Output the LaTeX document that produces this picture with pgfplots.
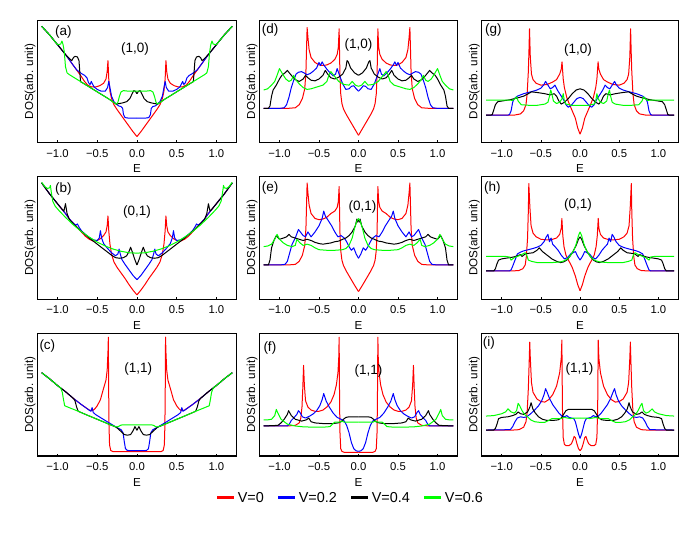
\documentclass[border=0pt]{standalone}
\usepackage{fontspec}
\setmainfont{Liberation Sans}
\usepackage{pgfplots}
\usepackage{pgfplotstable}
\pgfplotsset{compat=1.18}

\definecolor{vR}{RGB}{255,0,0}
\definecolor{vB}{RGB}{0,0,255}
\definecolor{vK}{RGB}{0,0,0}
\definecolor{vG}{RGB}{0,255,0}

% Each table holds the E >= 0 half of a symmetric DOS curve (E, DOS)
% ---------------- (a) (1,0) ----------------
\pgfplotstableread{
0 5
0.05 9
0.10 13.5
0.15 18
0.20 22.5
0.25 27
0.29 31
0.32 36
0.34 42
0.355 52
0.365 67
0.375 58
0.39 52
0.42 48.5
0.47 46.5
0.52 45.5
0.57 45.5
0.62 47
0.66 50
0.70 54
0.75 58.5
0.80 63
0.85 67.5
0.90 72
0.95 76
1.00 80
1.05 84
1.10 88
1.15 91.5
1.20 95
}\aR
\pgfplotstableread{
0 20
0.10 20
0.15 20.5
0.17 23
0.18 28
0.20 29.5
0.23 30
0.26 31.5
0.29 33.5
0.32 38
0.34 45
0.355 50
0.37 45
0.40 42
0.45 42
0.50 43.5
0.54 45.5
0.56 48
0.575 50
0.59 47.5
0.61 49
0.63 53
0.66 55
0.70 56.5
0.73 58
0.76 59.5
0.80 63
0.85 67.5
0.90 72
0.95 76
1.00 80
1.05 84
1.10 88
1.15 91.5
1.20 95
}\aB
\pgfplotstableread{
0 40
0.02 42
0.04 42.5
0.06 40
0.09 36
0.13 33.5
0.18 32.5
0.22 32
0.26 31.5
0.35 35.5
0.45 39.5
0.55 43.5
0.65 47.5
0.71 49.8
0.72 58
0.73 67
0.75 70
0.78 70.5
0.80 69.5
0.82 67
0.84 68
0.87 70
0.90 72
0.95 76
1.00 80
1.05 84
1.10 88
1.15 91.5
1.20 95
}\aK
\pgfplotstableread{
0 42
0.10 42
0.17 42.5
0.20 41.5
0.22 38
0.24 33
0.26 31.5
0.35 35.5
0.45 39.5
0.55 43.5
0.65 47.5
0.75 51.5
0.85 55.5
0.88 57
0.90 62
0.915 74
0.93 80
0.945 83
0.96 80.5
1.00 80
1.05 84
1.10 88
1.15 91.5
1.20 95
}\aG
% ---------------- (b) (0,1) ----------------
\pgfplotstableread{
0 3.6
0.05 7.5
0.10 12
0.15 17
0.20 21.5
0.25 26
0.29 30.5
0.32 37
0.34 45
0.355 56
0.365 68
0.375 60
0.39 55
0.42 52
0.46 49.5
0.50 48
0.55 47.5
0.60 49
0.65 51.5
0.70 55
0.75 58.5
0.80 62
0.85 65.5
0.90 70
0.95 74
1.00 78
1.05 82
1.10 86
1.15 90.5
1.20 95
}\bR
\pgfplotstableread{
0 16
0.05 19.5
0.10 24
0.15 28.5
0.19 32.5
0.21 37
0.225 41
0.24 37
0.27 35.5
0.32 38
0.37 41.5
0.42 45.5
0.445 50
0.46 56
0.475 50
0.50 48
0.55 48.5
0.60 50.5
0.65 53
0.70 56
0.73 59
0.75 61.5
0.77 60.5
0.80 62
0.85 65.5
0.90 70
0.95 74
1.00 78
1.05 82
1.10 86
1.15 90.5
1.20 95
}\bB
\pgfplotstableread{
0 28
0.03 33
0.06 39
0.08 42.5
0.10 39
0.13 35.5
0.17 34
0.22 33.5
0.27 34
0.32 36
0.40 40
0.50 45
0.60 50
0.70 55.5
0.80 61.5
0.85 65
0.88 70
0.90 78
0.92 72
0.95 74
1.00 78
1.05 82
1.10 86
1.15 90.5
1.20 95
}\bK
\pgfplotstableread{
0 37.7
0.10 38
0.20 39.2
0.30 41
0.40 43.5
0.50 46.7
0.60 50.7
0.70 55.3
0.80 60.7
0.90 66.9
0.98 72.3
1.03 76
1.06 80
1.08 88
1.09 93
1.10 91
1.13 90.5
1.16 92
1.20 95.5
}\bG
% ---------------- (c) (1,1) ----------------
\pgfplotstableread{
0 3.5
0.30 3.5
0.33 4.5
0.345 9
0.352 25
0.357 60
0.36 97
0.365 85
0.375 70
0.39 62
0.43 53
0.46 46
0.50 41
0.53 38.5
0.56 37
0.60 37.5
0.70 42
0.80 47
0.90 52.5
1.00 57.5
1.10 63
1.20 68
}\cR
\pgfplotstableread{
0 4.4
0.12 4.5
0.145 6
0.16 12
0.175 19
0.20 21.5
0.23 22.5
0.26 23.5
0.35 27
0.45 31
0.52 33.8
0.55 35.5
0.565 39.5
0.58 36.5
0.61 37.8
0.70 42
0.80 47
0.90 52.5
1.00 57.5
1.10 63
1.20 68
}\cB
\pgfplotstableread{
0 21
0.025 24
0.05 20.5
0.08 17.5
0.12 17
0.16 17.5
0.20 20
0.26 23.5
0.35 25.9
0.45 28.6
0.55 31.3
0.65 34
0.74 36.5
0.76 40
0.78 45
0.80 47
0.90 52.5
1.00 57.5
1.10 63
1.20 68
}\cK
\pgfplotstableread{
0 25.5
0.18 25.5
0.21 25
0.235 24
0.26 23.7
0.35 25.9
0.45 28.6
0.55 31.3
0.65 34
0.75 36.8
0.85 39.4
0.91 41
0.925 46
0.94 52
0.96 55.5
0.98 56.5
1.00 57.5
1.10 63
1.20 68
}\cG
% ---------------- (d) (1,0) ----------------
\pgfplotstableread{
0 6
0.05 11.5
0.10 17
0.15 22.5
0.19 27.5
0.21 32
0.225 40
0.235 55
0.245 93
0.255 78
0.27 72
0.30 68
0.35 65
0.40 63.5
0.45 63
0.50 63.5
0.55 65.5
0.60 69.5
0.625 76
0.64 86
0.65 94
0.657 78
0.665 58
0.68 44
0.71 36
0.75 31
0.80 28.5
0.90 28
1.20 28
}\dR
\pgfplotstableread{
0 42
0.03 44
0.06 46.5
0.09 46
0.12 44
0.16 43.5
0.20 48
0.24 55
0.27 60.5
0.29 56
0.32 54.5
0.36 57
0.40 60
0.44 63.5
0.46 66
0.48 63
0.50 65.5
0.53 61
0.57 58.5
0.61 56.5
0.65 55.5
0.69 57
0.72 58
0.76 57.5
0.79 56
0.82 51
0.85 45
0.88 37
0.91 31
0.94 28.5
1.00 28
1.20 28
}\dB
\pgfplotstableread{
0 55
0.05 57
0.10 61
0.13 66
0.145 67
0.16 61
0.20 56
0.25 53.5
0.30 52
0.35 53
0.39 56
0.42 59
0.45 55
0.50 52
0.55 50.5
0.60 51
0.64 53
0.67 55
0.70 52
0.75 50
0.80 51.5
0.85 55
0.90 59
0.93 57
0.97 55
1.00 52
1.04 47
1.08 43
1.10 38
1.12 30
1.14 28
1.20 28
}\dK
\pgfplotstableread{
0 46
0.04 47
0.08 50
0.12 47
0.18 47.5
0.25 50
0.30 54
0.35 58
0.37 56
0.40 50
0.45 47
0.50 46
0.55 45
0.60 44
0.65 43.5
0.70 45
0.75 48
0.80 52
0.82 55
0.85 51
0.88 50
0.92 52
0.96 56
1.00 60.5
1.03 55
1.06 50
1.10 47
1.15 44
1.20 43
}\dG
% ---------------- (e) (0,1) ----------------
\pgfplotstableread{
0 6.3
0.05 11.5
0.10 17
0.15 22.5
0.19 27.5
0.21 32
0.225 40
0.235 55
0.245 92
0.255 80
0.27 75
0.30 72
0.35 70
0.40 67
0.45 65.5
0.50 65
0.55 66
0.60 70
0.625 77
0.64 87
0.65 95
0.657 78
0.665 58
0.68 44
0.71 36
0.75 31
0.80 28.5
0.90 28
1.20 28
}\eR
\pgfplotstableread{
0 33.5
0.03 37
0.06 42
0.09 40
0.12 43
0.15 47
0.18 50
0.22 52
0.26 51
0.30 55
0.34 60
0.38 64
0.42 68
0.44 72
0.46 66
0.50 60
0.55 55
0.60 51
0.64 55
0.67 51
0.70 52
0.76 57
0.80 50
0.84 45
0.87 38
0.90 31
0.93 28.5
1.00 28
1.20 28
}\eB
\pgfplotstableread{
0 65
0.01 63
0.02 65.5
0.04 60
0.08 55
0.12 52
0.16 50
0.20 49
0.25 47.5
0.30 47
0.35 46
0.40 45.5
0.45 45
0.50 45.5
0.55 46.5
0.60 48
0.65 49
0.70 48
0.75 49
0.80 50
0.85 51
0.88 53
0.91 51
0.95 50
1.00 49
1.04 52
1.07 48
1.10 42
1.12 32
1.14 28
1.20 28
}\eK
\pgfplotstableread{
0 66
0.02 64
0.05 58
0.08 50
0.12 44
0.16 41.5
0.20 40.5
0.30 40
0.40 40
0.50 40.5
0.55 42
0.60 44
0.65 45
0.70 44
0.74 46
0.78 49
0.80 44
0.84 43
0.90 44
0.95 46
1.00 49
1.03 53
1.06 49
1.10 45
1.15 43.5
1.20 43
}\eG
% ---------------- (f) (1,1) ----------------
\pgfplotstableread{
0 3
0.18 3
0.21 3.8
0.225 6
0.235 20
0.24 50
0.245 97
0.25 80
0.26 68
0.28 58
0.31 50
0.35 44
0.40 40
0.45 37.5
0.50 36.5
0.55 36.5
0.60 37.5
0.64 40
0.67 45
0.685 58
0.695 74
0.705 55
0.715 40
0.73 31
0.75 27
0.80 25
0.90 24.5
1.20 24.5
}\fR
\pgfplotstableread{
0 3.8
0.03 4.2
0.06 6
0.09 11
0.12 19
0.15 25
0.18 28.5
0.22 30
0.27 31.5
0.32 35
0.37 40
0.41 45
0.44 51
0.46 46
0.49 41
0.53 37
0.57 34.5
0.62 32.5
0.67 31
0.71 32
0.74 35.5
0.76 37
0.78 34
0.82 31
0.85 29
0.88 25.5
0.90 24.5
1.20 24.5
}\fB
\pgfplotstableread{
0 32
0.12 32
0.16 31.5
0.19 30
0.22 28
0.26 27
0.32 26.5
0.45 26.5
0.55 27
0.60 28
0.63 31
0.66 29.5
0.72 28.5
0.80 30
0.85 33
0.885 37
0.90 34
0.94 30
0.98 27
1.02 25
1.20 24.5
}\fK
\pgfplotstableread{
0 27.6
0.18 27.6
0.21 28.5
0.24 27.6
0.30 27.6
0.33 26
0.36 24
0.45 23.5
0.55 23.5
0.70 23.8
0.80 24.5
0.90 26
0.98 30
1.02 35
1.04 38
1.06 33
1.10 30
1.15 29.5
1.20 29.5
}\fG
% ---------------- (g) (1,0) ----------------
\pgfplotstableread{
0 7
0.03 12
0.06 20
0.10 26
0.13 30.5
0.17 37
0.20 45
0.215 52
0.23 66
0.24 60
0.26 56
0.30 51.5
0.35 49.5
0.42 47.5
0.50 47
0.56 48.5
0.60 51.5
0.62 56
0.635 70
0.645 93
0.652 75
0.66 58
0.675 40
0.69 31
0.72 26
0.76 23.5
0.84 22.5
1.20 22.5
}\gR
\pgfplotstableread{
0 37
0.04 36
0.08 33
0.12 30
0.15 29
0.18 31
0.21 35
0.25 39
0.29 43
0.32 47
0.35 45
0.38 44
0.42 48
0.44 50
0.46 47.5
0.50 44.5
0.55 43
0.60 42
0.66 41
0.72 40
0.76 39
0.80 38
0.84 36
0.86 33
0.88 26
0.90 23
0.92 22.5
1.20 22.5
}\gB
\pgfplotstableread{
0 44
0.05 43
0.10 40
0.15 36
0.20 33
0.24 31.5
0.27 34
0.30 38
0.33 40
0.38 39
0.45 40
0.55 41
0.62 41.5
0.66 40
0.72 38
0.80 36.5
0.90 35
1.00 34
1.05 33.5
1.08 31
1.10 27
1.12 23
1.14 22.5
1.20 22.5
}\gK
\pgfplotstableread{
0 30.5
0.10 30.5
0.18 31.5
0.20 34
0.215 40
0.23 36
0.26 33
0.30 32
0.34 34
0.36 40
0.375 43
0.39 38
0.41 33
0.45 31.5
0.55 30.5
0.65 30.5
0.75 31
0.79 34
0.81 37.5
0.83 36
0.86 34.5
0.90 34.8
1.20 34.8
}\gG
% ---------------- (h) (0,1) ----------------
\pgfplotstableread{
0 7
0.03 12
0.06 19
0.10 26
0.14 31
0.18 36
0.205 43
0.22 52
0.232 66
0.24 58
0.26 53
0.30 50
0.35 49
0.42 48.5
0.50 49
0.56 51
0.60 54
0.625 60
0.64 75
0.654 94.5
0.66 72
0.67 50
0.685 35
0.70 28
0.73 25
0.78 23.5
0.85 23.2
1.20 23.2
}\hR
\pgfplotstableread{
0 32
0.03 35
0.06 39
0.09 38
0.12 37
0.16 34
0.20 33
0.24 36
0.28 40
0.32 43
0.35 45
0.37 50
0.39 47
0.41 53
0.43 51
0.46 47
0.50 44
0.55 42.5
0.60 41.5
0.66 40.5
0.72 39.5
0.76 38.5
0.80 37
0.83 32
0.86 27
0.88 24
0.90 23.2
1.20 23.2
}\hB
\pgfplotstableread{
0 51
0.02 49
0.05 44
0.09 39
0.13 35
0.17 32
0.21 30.5
0.25 30
0.30 31
0.36 33
0.42 36
0.48 39
0.52 42
0.55 40
0.60 38
0.66 37.5
0.70 37
0.74 35
0.76 36.5
0.80 35.5
0.85 34.5
0.90 34
0.95 33.5
1.00 33
1.04 32
1.06 29
1.08 25
1.10 23.2
1.20 23.2
}\hK
\pgfplotstableread{
0 55
0.02 52
0.05 45
0.08 40
0.12 36
0.16 33
0.20 31.5
0.25 30.5
0.35 30
0.45 30
0.55 30
0.62 31
0.66 32
0.68 36
0.70 38
0.73 37
0.76 36
0.80 35
0.84 34
0.88 32
0.90 34.5
0.95 35
1.20 35
}\hG
% ---------------- (i) (1,1) ----------------
\pgfplotstableread{
0 4.3
0.02 6
0.04 10
0.06 15
0.075 16
0.09 13
0.11 10
0.14 8.5
0.18 8.5
0.20 9.5
0.215 15
0.225 40
0.232 94.6
0.24 80
0.26 68
0.30 57
0.35 50
0.40 46
0.45 44
0.50 44.5
0.55 46.5
0.60 52
0.62 60
0.635 80
0.642 93
0.65 75
0.66 55
0.675 36
0.69 28
0.72 23.5
0.78 21.5
0.85 21.2
1.20 21.2
}\iR
\pgfplotstableread{
0 14.4
0.02 18
0.04 23
0.06 28
0.08 30.5
0.11 31
0.14 31.5
0.17 33
0.20 32
0.23 32.5
0.27 35
0.31 38.5
0.35 42
0.39 47
0.42 52
0.44 55
0.46 50
0.49 45
0.53 41
0.58 37.5
0.63 34.5
0.68 32
0.72 31.5
0.76 32
0.80 31
0.83 28
0.86 24
0.89 21.5
1.20 21.2
}\iB
\pgfplotstableread{
0 38
0.10 38
0.15 38
0.18 37
0.21 34
0.24 31
0.28 29.5
0.35 29
0.42 29
0.48 30
0.53 32
0.57 35
0.60 38
0.625 43.5
0.64 40
0.67 36
0.72 34
0.76 34.5
0.79 36
0.82 34
0.86 33
0.92 32
1.00 31.5
1.04 30.5
1.06 26
1.08 22.5
1.10 21.2
1.20 21.2
}\iK
\pgfplotstableread{
0 31
0.08 31
0.12 30.5
0.16 31
0.20 31.5
0.25 30.5
0.30 30.5
0.36 30.5
0.40 29
0.45 27.5
0.52 27.5
0.58 28
0.63 29.5
0.67 32
0.71 34
0.74 37
0.77 41
0.79 43
0.81 37
0.84 35
0.88 36
0.92 38.5
0.95 36
1.00 34.5
1.10 33
1.20 32.6
}\iG

% one symmetric curve: the stored E >= 0 half and its mirror image
\newcommand{\dos}[2]{%
  \addplot[#1, forget plot] table[x expr=-\thisrowno{0}, y index=1]{#2};
  \addplot[#1, forget plot] table[x index=0, y index=1]{#2};
}
\newcommand{\panel}[4]{% red, blue, black, green
  \dos{vR}{#1}\dos{vB}{#2}\dos{vK}{#3}\dos{vG}{#4}}

\newcommand{\tickfont}{\fontsize{11.3}{13}\selectfont}
\newcommand{\labfont}{\fontsize{11.6}{14}\selectfont}
\newcommand{\tagfont}{\fontsize{13.5}{16}\selectfont}

\pgfplotsset{
  dospanel/.style={
    scale only axis, anchor=south west,
    height=122.5pt,
    xmin=-1.255, xmax=1.255, ymin=0, ymax=100,
    xtick={-1,-0.5,0,0.5,1},
    xticklabels={−1.0,−0.5,0.0,0.5,1.0},
    ytick=\empty,
    tick align=inside, major tick length=2.5pt,
    tick style={black, line width=0.6pt},
    xtick pos=bottom,
    axis line style={line width=1.1pt},
    xticklabel style={font=\tickfont, inner sep=0pt, anchor=north, yshift=-6.5pt},
    xlabel={E},
    xlabel style={font=\labfont, inner sep=0pt, anchor=north,
      at={([yshift=-22pt]rel axis cs:0.5,0)}},
    ylabel={DOS(arb. unit)},
    ylabel style={font=\labfont, inner sep=0pt, anchor=base,
      at={([xshift=-4.3pt]rel axis cs:0,0.5)}},
    every axis plot/.append style={line width=1pt, line join=round},
    clip=true,
  },
}

\begin{document}
\begin{tikzpicture}[x=1pt,y=1pt]
\useasboundingbox (0,0) rectangle (700,535);

% ---------- row 1 ----------
\begin{axis}[dospanel, at={(37.3pt,392.3pt)}, width=199.3pt]
\panel{\aR}{\aB}{\aK}{\aG}
\node[font=\tagfont] at (rel axis cs:0.49,0.765) {(1,0)};
\node[font=\tagfont, anchor=north west, inner sep=0pt] at ([xshift=17.7pt,yshift=-5pt]rel axis cs:0,1) {(a)};
\end{axis}

\begin{axis}[dospanel, at={(259.3pt,392.3pt)}, width=198.4pt]
\panel{\dR}{\dB}{\dK}{\dG}
\node[font=\tagfont] at (rel axis cs:0.5,0.8) {(1,0)};
\node[font=\tagfont, anchor=north west, inner sep=0pt] at ([xshift=2.4pt,yshift=-3.3pt]rel axis cs:0,1) {(d)};
\end{axis}

\begin{axis}[dospanel, at={(481.7pt,392.3pt)}, width=196.7pt]
\panel{\gR}{\gB}{\gK}{\gG}
\node[font=\tagfont] at (rel axis cs:0.49,0.755) {(1,0)};
\node[font=\tagfont, anchor=north west, inner sep=0pt] at ([xshift=3.3pt,yshift=-3.3pt]rel axis cs:0,1) {(g)};
\end{axis}

% ---------- row 2 ----------
\begin{axis}[dospanel, at={(37.3pt,235.7pt)}, width=199.3pt]
\panel{\bR}{\bB}{\bK}{\bG}
\node[font=\tagfont] at (rel axis cs:0.5,0.71) {(0,1)};
\node[font=\tagfont, anchor=north west, inner sep=0pt] at ([xshift=17.7pt,yshift=-6pt]rel axis cs:0,1) {(b)};
\end{axis}

\begin{axis}[dospanel, at={(259.3pt,235.7pt)}, width=198.4pt]
\panel{\eR}{\eB}{\eK}{\eG}
\node[font=\tagfont] at (rel axis cs:0.52,0.75) {(0,1)};
\node[font=\tagfont, anchor=north west, inner sep=0pt] at ([xshift=2.4pt,yshift=-4.4pt]rel axis cs:0,1) {(e)};
\end{axis}

\begin{axis}[dospanel, at={(481.7pt,235.7pt)}, width=196.7pt]
\panel{\hR}{\hB}{\hK}{\hG}
\node[font=\tagfont] at (rel axis cs:0.49,0.77) {(0,1)};
\node[font=\tagfont, anchor=north west, inner sep=0pt] at ([xshift=2.3pt,yshift=-4.4pt]rel axis cs:0,1) {(h)};
\end{axis}

% ---------- row 3 ----------
\begin{axis}[dospanel, at={(37.3pt,79pt)}, width=199.3pt]
\panel{\cR}{\cB}{\cK}{\cG}
\node[font=\tagfont] at (rel axis cs:0.506,0.713) {(1,1)};
\node[font=\tagfont, anchor=north west, inner sep=0pt] at ([xshift=2pt,yshift=-6pt]rel axis cs:0,1) {(c)};
\end{axis}

\begin{axis}[dospanel, at={(259.3pt,79pt)}, width=198.4pt,
  legend columns=4,
  legend style={draw=none, fill=none, font=\fontsize{14.4}{16}\selectfont,
    at={(0.459,-0.342)}, anchor=center,
    /tikz/every even column/.append style={column sep=11pt}},
  legend image code/.code={\draw[#1, line width=3pt] (0pt,0pt) -- (17pt,0pt);}]
\panel{\fR}{\fB}{\fK}{\fG}
\node[font=\tagfont] at (rel axis cs:0.55,0.69) {(1,1)};
\node[font=\tagfont, anchor=north west, inner sep=0pt] at ([xshift=4pt,yshift=-7.7pt]rel axis cs:0,1) {(f)};
\addlegendimage{vR}\addlegendentry{V=0}
\addlegendimage{vB}\addlegendentry{V=0.2}
\addlegendimage{vK}\addlegendentry{V=0.4}
\addlegendimage{vG}\addlegendentry{V=0.6}
\end{axis}

\begin{axis}[dospanel, at={(481.7pt,79pt)}, width=196.7pt]
\panel{\iR}{\iB}{\iK}{\iG}
\node[font=\tagfont] at (rel axis cs:0.497,0.713) {(1,1)};
\node[font=\tagfont, anchor=north west, inner sep=0pt] at ([xshift=1pt,yshift=-2.7pt]rel axis cs:0,1) {(i)};
\end{axis}
\end{tikzpicture}
\end{document}
